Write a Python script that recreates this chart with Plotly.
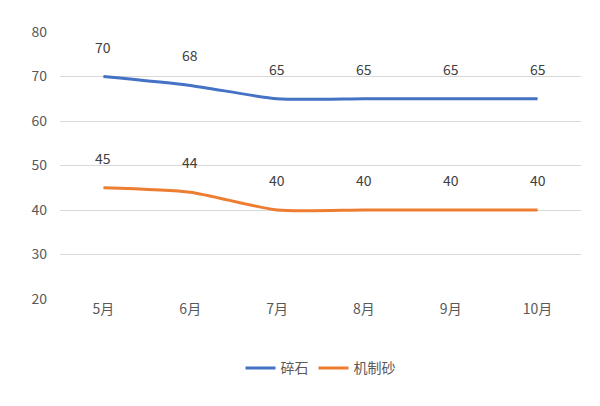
import plotly.graph_objects as go

months = ["5月", "6月", "7月", "8月", "9月", "10月"]
gravel = [70, 68, 65, 65, 65, 65]
sand = [45, 44, 40, 40, 40, 40]

fig = go.Figure()
fig.add_trace(go.Scatter(x=months, y=gravel, name="碎石", mode="lines",
                         line=dict(color="#4472C4", width=3, shape="spline", smoothing=0.6)))
fig.add_trace(go.Scatter(x=months, y=sand, name="机制砂", mode="lines",
                         line=dict(color="#ED7D31", width=3, shape="spline", smoothing=0.6)))
anns = []
for series in (gravel, sand):
    for m, v in zip(months, series):
        anns.append(dict(x=m, y=v, text=str(v), showarrow=False, yshift=30,
                         font=dict(size=14, color="#404040")))
fig.update_layout(
    width=600, height=406, paper_bgcolor="white", plot_bgcolor="white",
    margin=dict(l=52, r=27, t=24, b=115, autoexpand=False),
    font=dict(family="Noto Sans CJK SC", size=13, color="#595959"),
    annotations=anns,
    xaxis=dict(showgrid=False, showline=False, ticks="", tickfont=dict(size=14),
               range=[-0.5, 5.5]),
    yaxis=dict(range=[20, 80], dtick=10, gridcolor="#D9D9D9", zeroline=False,
               showline=False, tickfont=dict(size=14), ticklabelstandoff=12),
    legend=dict(orientation="h", x=0.5, xanchor="center", y=-0.2, yanchor="top",
                font=dict(size=14)),
)
fig.write_html("out.html")
